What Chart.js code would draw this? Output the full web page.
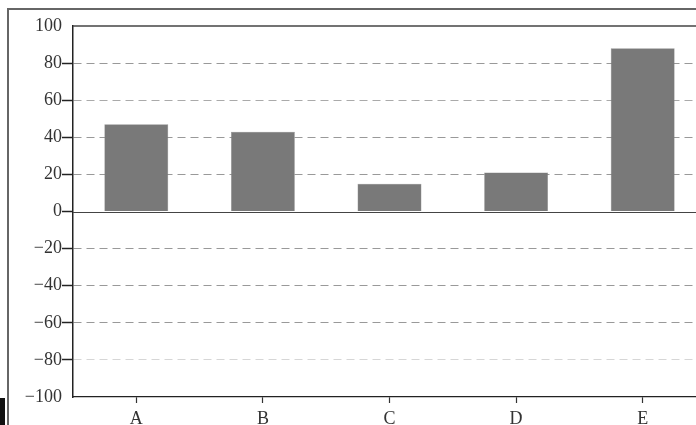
<!DOCTYPE html>
<html>
<head>
<meta charset="utf-8">
<script src="https://cdn.jsdelivr.net/npm/chart.js@4/dist/chart.umd.min.js"></script>
<style>
  html, body { margin: 0; padding: 0; background: #fff; overflow: hidden; }
  #frame { position: absolute; left: 7px; top: 8px; width: 800px; height: 600px;
           border-top: 2px solid #666; border-left: 2px solid #666; }
  #wrap { position: absolute; left: 0; top: 0; width: 720px; height: 425px; }
  #smudge { position: absolute; left: 0; top: 398px; width: 5px; height: 27px; background: #111; }
</style>
</head>
<body>
<div id="frame"></div>
<div id="wrap"><canvas id="barChart"></canvas></div>
<div id="smudge"></div>
<script>
/* ── Data ──────────────────────────────────────────────── */
const categories = ['A', 'B', 'C', 'D', 'E'];
const values = [47, 43, 15, 21, 88];
const yTicks = [-100, -80, -60, -40, -20, 0, 20, 40, 60, 80, 100];

const FONT = { family: "'Liberation Serif', 'DejaVu Serif', serif", size: 18 };

/* solid zero line and top edge of the plot */
const framePlugin = {
  id: 'framePlugin',
  afterDatasetsDraw(chart) {
    const { ctx, chartArea, scales: { y } } = chart;
    const y0 = Math.round(y.getPixelForValue(0)) + 0.5;
    ctx.save();
    ctx.strokeStyle = '#444';
    ctx.lineWidth = 1.2;
    ctx.beginPath();
    ctx.moveTo(chartArea.left, y0);
    ctx.lineTo(chartArea.right, y0);
    ctx.stroke();
    ctx.strokeStyle = '#444';
    ctx.lineWidth = 1.5;
    ctx.beginPath();
    ctx.moveTo(chartArea.left, chartArea.top);
    ctx.lineTo(chartArea.right, chartArea.top);
    ctx.stroke();
    ctx.restore();
  }
};

new Chart(document.getElementById('barChart'), {
  type: 'bar',
  data: {
    labels: categories,
    datasets: [{
      data: values,
      backgroundColor: '#797979',
      borderColor: '#8a8a8a',
      borderWidth: 0.5,
      barPercentage: 1,
      categoryPercentage: 0.505
    }]
  },
  options: {
    responsive: true,
    maintainAspectRatio: false,
    animation: false,
    layout: { padding: { top: 26, right: 14, left: 0, bottom: 0 } },
    plugins: { legend: { display: false }, tooltip: { enabled: false } },
    scales: {
      x: {
        offset: true,
        grid: { display: true, offset: false, drawOnChartArea: false, tickLength: 6, tickColor: '#333', tickWidth: 1.2 },
        border: { display: true, color: '#222', width: 1.3 },
        ticks: { color: '#333', font: FONT, padding: 5 },
        afterFit: s => { s.height = 28; }
      },
      y: {
        min: -100,
        max: 100,
        afterBuildTicks: s => { s.ticks = yTicks.map(v => ({ value: v })); },
        afterFit: s => { s.width = 73; },
        grid: {
          color: c => {
            const v = c.tick && c.tick.value;
            if (v === 0 || v === 100 || v === -100) return 'rgba(0,0,0,0)';
            if (v === -80) return '#d6d6d6';
            if (v === 60) return '#aaa';
            return '#999';
          },
          tickColor: c => {
            const v = c.tick && c.tick.value;
            return (v === 100 || v === -100) ? 'rgba(0,0,0,0)' : '#222';
          },
          tickLength: 11,
          tickWidth: 1.5,
          lineWidth: 1
        },
        border: { display: true, color: '#222', width: 1.5, dash: [8, 5] },
        ticks: {
          color: '#333',
          font: FONT,
          padding: 0,
          callback: v => String(v).replace('-', '\u2212')
        }
      }
    }
  },
  plugins: [framePlugin]
});
</script>
</body>
</html>
